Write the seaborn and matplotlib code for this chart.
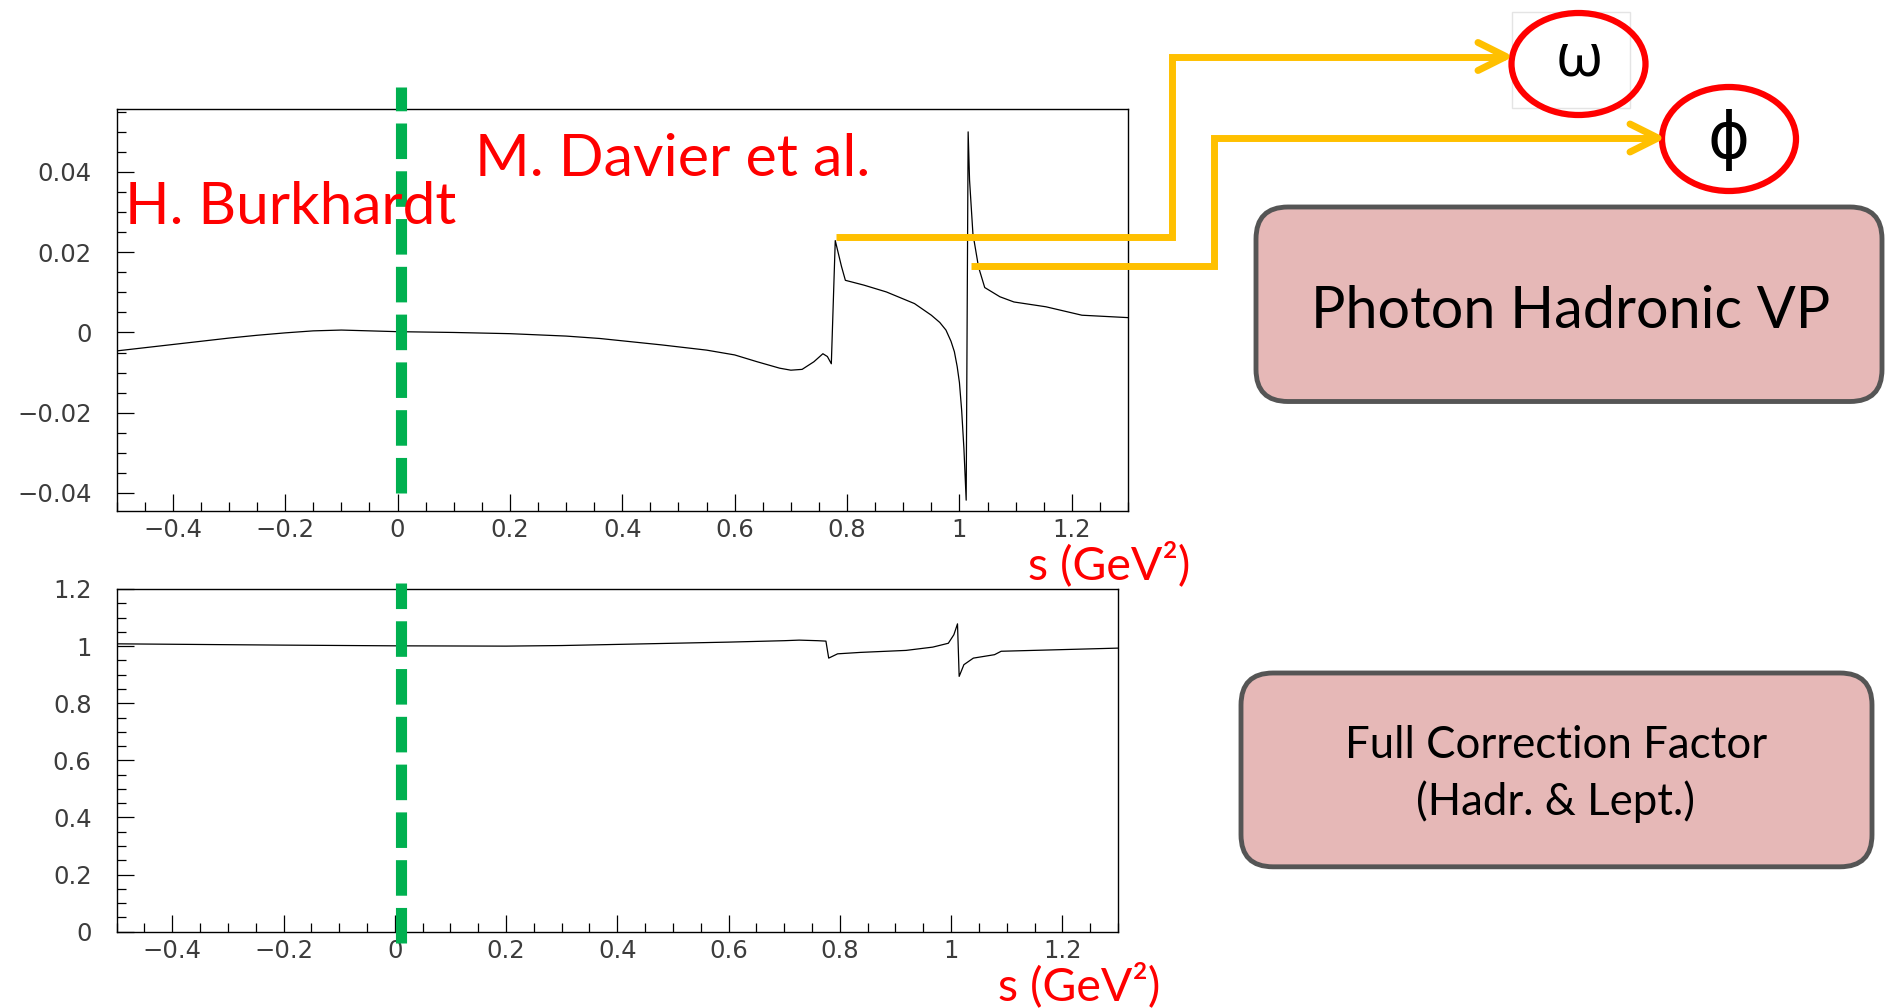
import numpy as np
import matplotlib
matplotlib.use("Agg")
import matplotlib.pyplot as plt
import seaborn as sns
from matplotlib.patches import FancyBboxPatch, Ellipse, Rectangle
from matplotlib.ticker import MultipleLocator, FixedLocator, FixedFormatter

# ---------------- data ----------------
s_top = [-0.50, -0.45, -0.40, -0.35, -0.30, -0.25, -0.20, -0.15, -0.10, -0.05,
         0.00, 0.10, 0.20, 0.30, 0.36, 0.47, 0.55, 0.60, 0.64, 0.68,
         0.70, 0.72, 0.741, 0.757, 0.765, 0.772, 0.779, 0.790, 0.797, 0.83,
         0.87, 0.92, 0.95, 0.965, 0.976, 0.985, 0.991, 0.996, 1.000, 1.004,
         1.008, 1.012, 1.0155, 1.018, 1.024, 1.034, 1.045, 1.072, 1.097, 1.154,
         1.218, 1.30]
vp_top = [-0.0046, -0.0038, -0.0030, -0.0022, -0.0014, -0.0007, -0.0001, 0.0004, 0.0006, 0.0004,
          0.0002, 0.0000, -0.0003, -0.0009, -0.0015, -0.0031, -0.0044, -0.0056, -0.0073, -0.0089,
          -0.0094, -0.0092, -0.0073, -0.0053, -0.0060, -0.0078, 0.0229, 0.0165, 0.0130, 0.0118,
          0.0101, 0.0072, 0.0043, 0.0025, 0.0006, -0.0022, -0.0048, -0.0085, -0.0125, -0.0195,
          -0.0290, -0.0418, 0.0500, 0.0380, 0.0246, 0.0163, 0.0112, 0.0089, 0.0076, 0.0064,
          0.0043, 0.0037]

s_bot = [-0.50, -0.20, 0.00, 0.20, 0.30, 0.40, 0.50, 0.60, 0.70, 0.727,
         0.760, 0.775, 0.780, 0.796, 0.837, 0.919, 0.967, 0.995, 1.005, 1.0115,
         1.0145, 1.023, 1.04, 1.078, 1.09, 1.30]
corr_bot = [1.008, 1.0035, 1.001, 1.000, 1.002, 1.006, 1.010, 1.014, 1.019, 1.021,
            1.019, 1.0175, 0.958, 0.973, 0.978, 0.985, 0.9965, 1.010, 1.040, 1.078,
            0.894, 0.935, 0.958, 0.970, 0.982, 0.993]

x_ticks = [-0.4, -0.2, 0.0, 0.2, 0.4, 0.6, 0.8, 1.0, 1.2]
x_tick_labels = ["\u22120.4", "\u22120.2", "0", "0.2", "0.4", "0.6", "0.8", "1", "1.2"]
y_ticks_top = [-0.04, -0.02, 0.0, 0.02, 0.04]
y_tick_labels_top = ["\u22120.04", "\u22120.02", "0", "0.02", "0.04"]
y_ticks_bot = [0.0, 0.2, 0.4, 0.6, 0.8, 1.0, 1.2]
y_tick_labels_bot = ["0", "0.2", "0.4", "0.6", "0.8", "1", "1.2"]

# ---------------- figure ----------------
sns.set_theme(style="white")
plt.rcParams['font.family'] = ['DejaVu Sans']
W, H = 1885, 1008
fig = plt.figure(figsize=(W / 100, H / 100), dpi=100)
fig.patch.set_facecolor("white")

def frac(x0, y0, x1, y1):
    return [x0 / W, 1 - y1 / H, (x1 - x0) / W, (y1 - y0) / H]

ax1 = fig.add_axes(frac(116.6, 109.4, 1128, 511))
ax2 = fig.add_axes(frac(116.6, 589, 1118, 931.7))

sns.lineplot(x=s_top, y=vp_top, ax=ax1, color="black", linewidth=0.9,
             sort=False, estimator=None)
sns.lineplot(x=s_bot, y=corr_bot, ax=ax2, color="black", linewidth=0.9,
             sort=False, estimator=None)

ax1.set_xlim(-0.5, 1.3)
ax1.set_ylim(-0.0445, 0.0556)
ax2.set_xlim(-0.5, 1.3)
ax2.set_ylim(0, 1.2)

for ax, yt, ytl, ymin in [(ax1, y_ticks_top, y_tick_labels_top, 0.005),
                          (ax2, y_ticks_bot, y_tick_labels_bot, 0.05)]:
    ax.xaxis.set_major_locator(FixedLocator(x_ticks))
    ax.xaxis.set_major_formatter(FixedFormatter(x_tick_labels))
    ax.xaxis.set_minor_locator(MultipleLocator(0.05))
    ax.yaxis.set_major_locator(FixedLocator(yt))
    ax.yaxis.set_major_formatter(FixedFormatter(ytl))
    ax.yaxis.set_minor_locator(MultipleLocator(ymin))
    ax.tick_params(axis="both", which="major", direction="in", length=12.5, width=0.9,
                   color="black", labelsize=17.5, labelcolor="#3c3c3c")
    ax.tick_params(axis="both", which="minor", direction="in", length=6.5, width=0.9,
                   color="black")
    ax.tick_params(axis="x", which="both", bottom=True, top=False, pad=5)
    ax.tick_params(axis="y", which="both", left=True, right=False, pad=18)
    for lab in ax.get_xticklabels() + ax.get_yticklabels():
        lab.set_family("DejaVu Sans")
    for sp in ax.spines.values():
        sp.set_visible(True)
        sp.set_color("black")
        sp.set_linewidth(1.0)
    ax.set_xlabel("")
    ax.set_ylabel("")
    ax.grid(False)

# ---------------- overlay (annotations) ----------------
ov = fig.add_axes([0, 0, 1, 1])
ov.set_xlim(0, W)
ov.set_ylim(0, H)
ov.axis("off")
ov.patch.set_alpha(0)

def Y(y):
    return H - y

green = "#00B050"
gold = "#FFC000"
red = "#FF0000"

# green dashed separators (drawn bottom -> top so the dash pattern starts at the bottom)
for y_bottom, y_top in [(492.7, 86.6), (942.7, 583.3)]:
    ov.plot([400.5, 400.5], [Y(y_bottom), Y(y_top)], color=green, lw=8,
            dashes=(3.2, 1.1), solid_capstyle="butt", dash_capstyle="butt")

# gold connector lines
conn_kw = dict(color=gold, lw=5, solid_joinstyle="miter", solid_capstyle="butt")
ov.plot([835.5, 1172, 1172, 1505], [Y(236.8), Y(236.8), Y(56.5), Y(56.5)], **conn_kw)
ov.plot([971, 1214, 1214, 1657], [Y(265.7), Y(265.7), Y(138), Y(138)], **conn_kw)
head_kw = dict(color=gold, lw=5, solid_joinstyle="round", solid_capstyle="round")
for tx, ty in [(1506, 56.5), (1658, 138)]:
    ov.plot([tx - 28, tx, tx - 28], [Y(ty - 14), Y(ty), Y(ty + 14)], **head_kw)

# faint frame around omega
ov.add_patch(Rectangle((1512, Y(108)), 118, 96, fill=False, edgecolor="#e4e4e4", lw=1))

# resonance circles
ov.add_patch(Ellipse((1578.5, Y(64)), 134, 102, fill=False, edgecolor=red, lw=4.5))
ov.add_patch(Ellipse((1729, Y(139)), 134, 104, fill=False, edgecolor=red, lw=4.5))
ov.text(1579, Y(60), "\u03c9", fontsize=44, ha="center", va="center",
        family=["Open Sans", "DejaVu Sans"], color="black")
ov.text(1729, Y(140), "\u03d5", fontsize=46, ha="center", va="center",
        family=["DejaVu Sans"], color="black")

# rounded boxes
box_kw = dict(boxstyle="round,pad=0,rounding_size=32", facecolor="#E6B8B7",
              edgecolor="#555555", lw=3.5)
ov.add_patch(FancyBboxPatch((1256, Y(401.5)), 626, 194.5, **box_kw))
ov.add_patch(FancyBboxPatch((1241, Y(866.8)), 631, 193.8, **box_kw))

font_main = ["Lato", "DejaVu Sans"]
ov.text(1571, Y(311), "Photon Hadronic VP", fontsize=41.5, ha="center", va="center",
        family=font_main, color="black")
ov.text(1556, Y(746), "Full Correction Factor", fontsize=31.5, ha="center", va="center",
        family=font_main, color="black")
ov.text(1556, Y(802), "(Hadr. & Lept.)", fontsize=31.5, ha="center", va="center",
        family=font_main, color="black")

# red labels
ov.text(125, Y(207), "H. Burkhardt", fontsize=42, ha="left", va="center",
        family=font_main, color=red)
ov.text(475, Y(159), "M. Davier et al.", fontsize=42.5, ha="left", va="center",
        family=font_main, color=red)
ov.text(1028, Y(564), "s (GeV\u00b2)", fontsize=33.5, ha="left", va="center",
        family=font_main, color=red)
ov.text(998, Y(985), "s (GeV\u00b2)", fontsize=33.5, ha="left", va="center",
        family=font_main, color=red)

fig.savefig("out.png", dpi=100)
